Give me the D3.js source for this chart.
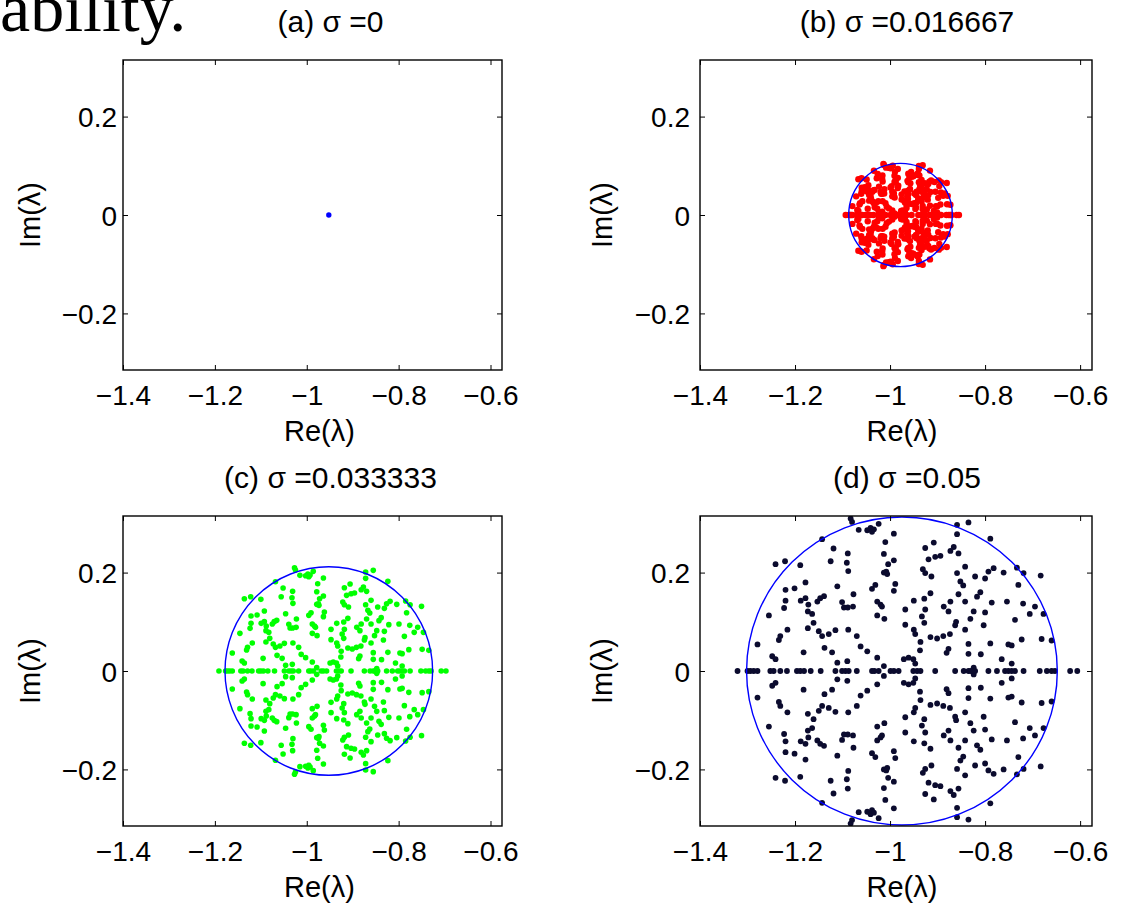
<!DOCTYPE html>
<html>
<head>
<meta charset="utf-8">
<script src="https://cdn.jsdelivr.net/npm/d3@7"></script>
<style>
  body { margin: 0; background: #fff; }
  svg { display: block; }
  text { font-family: "Liberation Sans", Arial, Helvetica, sans-serif; fill: #000; }
</style>
</head>
<body>
<svg id="fig" width="1122" height="906"></svg>
<script>
// Spectrum at the largest noise level (sigma = 0.05): eigenvalues in the upper
// half-plane; their complex conjugates are drawn as well.
const specRe = [
  -1.083,-1.080,-1.066,-1.048,-1.041,-1.038,-1.034,-1.024,-0.992,-0.859,
  -0.835,-0.859,-1.143,-1.010,-0.789,-0.926,-0.908,-1.119,-1.089,-1.125,
  -1.091,-1.088,-1.013,-0.992,-1.004,-0.919,-0.905,-0.894,-0.873,-0.866,
  -0.856,-1.241,-1.221,-1.189,-0.842,-0.931,-0.926,-0.913,-1.013,-1.008,
  -1.006,-0.859,-0.821,-0.782,-0.793,-0.800,-0.761,-0.733,-0.719,-0.683,
  -1.178,-1.111,-1.031,-1.038,-0.989,-0.992,-0.852,-0.846,-1.220,-1.201,
  -0.915,-0.856,-0.817,-0.810,-0.730,-1.188,-1.178,-1.172,-1.153,-1.147,
  -1.139,-1.220,-1.101,-1.097,-1.089,-1.078,-1.077,-1.027,-1.020,-1.017,
  -0.950,-0.928,-0.873,-0.842,-0.754,-0.720,-0.695,-0.786,-1.223,-1.173,
  -0.968,-0.926,-0.887,-0.877,-0.824,-0.800,-0.706,-0.677,-1.255,-1.164,
  -1.027,-1.012,-0.933,-0.861,-0.863,-0.831,-0.803,-0.737,-0.968,-0.928,
  -1.173,-1.161,-1.216,-0.950,-0.947,-1.088,-1.115,-1.150,-1.143,-1.129,
  -0.842,-1.231,-1.234,-1.070,-0.915,-0.901,-0.888,-0.874,-0.936,-0.789,
  -0.751,-0.744,-0.723,-0.681,-0.660,-1.279,-1.138,-1.062,-1.048,-0.835,
  -0.877,-0.881,-0.937,-1.182,-1.122,-1.248,-1.241,-1.027,-0.971,-0.961,
  -0.951,-0.947,-1.111,-1.090,-1.013,-0.835,-0.809,-0.765,-0.744,-0.824
];
const specIm = [
  0.310,0.303,0.287,0.286,0.291,0.283,0.288,0.299,0.279,0.297,
  0.302,0.278,0.268,0.262,0.269,0.250,0.261,0.249,0.239,0.223,
  0.220,0.203,0.238,0.225,0.217,0.227,0.232,0.234,0.244,0.252,
  0.239,0.217,0.223,0.215,0.212,0.207,0.199,0.192,0.200,0.202,
  0.197,0.199,0.192,0.209,0.202,0.188,0.200,0.210,0.199,0.194,
  0.180,0.172,0.175,0.167,0.177,0.163,0.182,0.174,0.165,0.168,
  0.158,0.156,0.151,0.160,0.175,0.143,0.148,0.135,0.141,0.148,
  0.152,0.143,0.140,0.129,0.129,0.131,0.156,0.141,0.135,0.131,
  0.143,0.147,0.141,0.141,0.141,0.137,0.131,0.139,0.128,0.121,
  0.125,0.125,0.131,0.121,0.121,0.119,0.116,0.116,0.113,0.116,
  0.113,0.106,0.111,0.100,0.093,0.106,0.093,0.104,0.094,0.098,
  0.087,0.098,0.084,0.084,0.075,0.084,0.083,0.081,0.071,0.075,
  0.084,0.071,0.063,0.071,0.069,0.066,0.071,0.075,0.059,0.056,
  0.054,0.052,0.064,0.065,0.062,0.054,0.047,0.050,0.040,0.055,
  0.045,0.037,0.042,0.038,0.038,0.030,0.024,0.027,0.024,0.027,
  0.024,0.015,0.017,0.020,0.010,0.035,0.034,0.024,0.015,0.007
];
// Purely real eigenvalues at sigma = 0.05
const realRe = [
  -1.321,-1.300,-1.294,-1.287,-1.279,-1.252,-1.245,-1.231,-1.217,-1.196,
  -1.189,-1.181,-1.167,-1.146,-1.115,-1.101,-1.094,-1.087,-1.070,-1.038,
  -1.033,-1.024,-0.999,-0.992,-0.982,-0.951,-0.943,-0.936,-0.905,-0.863,
  -0.845,-0.835,-0.830,-0.821,-0.793,-0.775,-0.758,-0.751,-0.744,-0.737,
  -0.719,-0.685,-0.670,-0.660,-0.653,-0.621,-0.606
];

// Panels
const panelTags   = ["(a)", "(b)", "(c)", "(d)"];
const sigmaLabels = ["0", "0.016667", "0.033333", "0.05"];
// Noise-free system: a single eigenvalue
const baseRe = [-0.952];
const baseIm = [0];
// Spectral disc for each sigma (centre, semi-axes in Re and Im)
const ringCenter = [null, -0.978, -0.952, -0.975];
const ringRx     = [null, 0.109, 0.226, 0.327];
const ringRy     = [null, 0.105, 0.212, 0.313];

const xTicks = [-1.4, -1.2, -1, -0.8, -0.6];
const yTicks = [-0.2, 0, 0.2];
const xDomain = [-1.4, -0.575];
const yDomain = [-0.315, 0.315];

// Styling / layout
const dotColors = ["#0000ff", "#ff0000", "#00ff00", "#0b0b2e"];
const dotRadius = [2.7, 3.2, 2.8, 2.9];
const boxes = [
  { left: 123, top: 60,  right: 502,  bottom: 370 },
  { left: 700, top: 60,  right: 1092, bottom: 370 },
  { left: 123, top: 516, right: 502,  bottom: 826 },
  { left: 700, top: 516, right: 1092, bottom: 826 }
];
const colStyle = [
  { yPad: 6,  titleDx: 18, xlabDx: 7 },
  { yPad: 10, titleDx: 11, xlabDx: 6 }
];
const TICK_FS = 28, LABEL_FS = 29, TITLE_FS = 30;
const fmt = v => (v < 0 ? "\u2212" : "") + String(Math.abs(v));

const svg = d3.select("#fig");

// Tail of the running text above the figure
svg.append("text")
  .attr("x", 0).attr("y", 31)
  .style("font-family", "'Liberation Serif', 'Times New Roman', serif")
  .style("font-size", "68px")
  .text("ability.");

// Full spectrum at sigma = 0.05 including conjugates
const fullRe = [], fullIm = [];
specRe.forEach((r, i) => { fullRe.push(r, r); fullIm.push(specIm[i], -specIm[i]); });
realRe.forEach(r => { fullRe.push(r); fullIm.push(0); });

boxes.forEach((b, k) => {
  const cs = colStyle[k % 2];
  const x = d3.scaleLinear().domain(xDomain).range([b.left, b.right]);
  const y = d3.scaleLinear().domain(yDomain).range([b.bottom, b.top]);
  const g = svg.append("g");

  const clipId = "clip" + k;
  g.append("clipPath").attr("id", clipId)
    .append("rect")
    .attr("x", b.left).attr("y", b.top)
    .attr("width", b.right - b.left).attr("height", b.bottom - b.top);

  const plot = g.append("g").attr("clip-path", `url(#${clipId})`);

  let pts;
  if (k === 0) {
    pts = baseRe.map((r, i) => ({ re: r, im: baseIm[i] }));
  } else {
    // spectrum scales with sigma about the disc centre
    const c0 = ringCenter[3], rx0 = ringRx[3], ry0 = ringRy[3];
    pts = fullRe.map((r, i) => ({
      re: ringCenter[k] + (r - c0) * ringRx[k] / rx0,
      im: fullIm[i] * ringRy[k] / ry0
    }));
  }

  plot.selectAll("circle.pt").data(pts).join("circle")
    .attr("class", "pt")
    .attr("cx", d => x(d.re))
    .attr("cy", d => y(d.im))
    .attr("r", dotRadius[k])
    .attr("fill", dotColors[k]);

  if (k > 0) {
    plot.append("ellipse")
      .attr("cx", x(ringCenter[k]))
      .attr("cy", y(0))
      .attr("rx", x(ringCenter[k] + ringRx[k]) - x(ringCenter[k]))
      .attr("ry", y(0) - y(ringRy[k]))
      .attr("fill", "none")
      .attr("stroke", "#0000ff")
      .attr("stroke-width", 1.4);
  }

  // Axes: ticks on all four sides pointing inward
  const tl = 5;
  const axB = d3.axisBottom(x).tickValues(xTicks).tickSizeInner(-tl).tickSizeOuter(0).tickFormat(fmt).tickPadding(16);
  const axT = d3.axisTop(x).tickValues(xTicks).tickSizeInner(-tl).tickSizeOuter(0).tickFormat("");
  const axL = d3.axisLeft(y).tickValues(yTicks).tickSizeInner(-tl).tickSizeOuter(0).tickFormat(fmt).tickPadding(cs.yPad);
  const axR = d3.axisRight(y).tickValues(yTicks).tickSizeInner(-tl).tickSizeOuter(0).tickFormat("");

  const gB = g.append("g").attr("transform", `translate(0,${b.bottom})`).call(axB);
  const gT = g.append("g").attr("transform", `translate(0,${b.top})`).call(axT);
  const gL = g.append("g").attr("transform", `translate(${b.left},0)`).call(axL);
  const gR = g.append("g").attr("transform", `translate(${b.right},0)`).call(axR);
  [gB, gT, gL, gR].forEach(a => {
    a.selectAll(".domain").remove();
    a.selectAll(".tick line").attr("stroke", "#000").attr("stroke-width", 1);
    a.selectAll("text").style("font-size", TICK_FS + "px").attr("font-family", null);
  });
  gB.selectAll("text").attr("dy", "0.68em");
  gL.selectAll("text").attr("dy", "0.36em");

  g.append("rect")
    .attr("x", b.left).attr("y", b.top)
    .attr("width", b.right - b.left).attr("height", b.bottom - b.top)
    .attr("fill", "none").attr("stroke", "#000").attr("stroke-width", 1.4);

  const cx = (b.left + b.right) / 2;
  g.append("text")
    .attr("x", cx + cs.xlabDx).attr("y", b.bottom + 71)
    .attr("text-anchor", "middle")
    .style("font-size", LABEL_FS + "px")
    .text("Re(\u03bb)");

  const lx = k % 2 === 0 ? 40 : 612;
  g.append("text")
    .attr("transform", `translate(${lx},${(b.top + b.bottom) / 2}) rotate(-90)`)
    .attr("text-anchor", "middle")
    .style("font-size", LABEL_FS + "px")
    .text("Im(\u03bb)");

  g.append("text")
    .attr("x", cx + cs.titleDx).attr("y", b.top - 28)
    .attr("text-anchor", "middle")
    .style("font-size", TITLE_FS + "px")
    .text(`${panelTags[k]} \u03c3 =${sigmaLabels[k]}`);
});
</script>
</body>
</html>
